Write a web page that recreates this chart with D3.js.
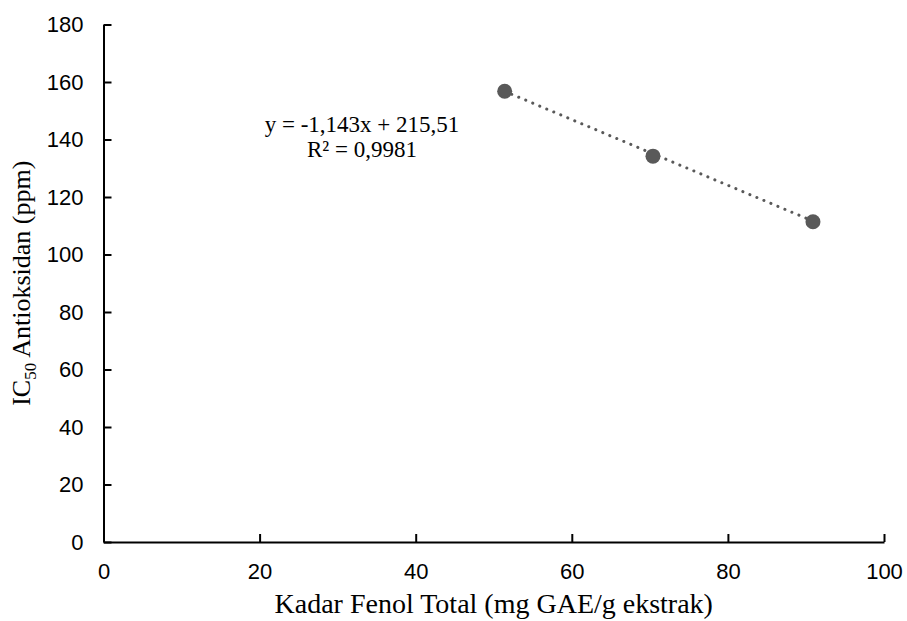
<!DOCTYPE html>
<html>
<head>
<meta charset="utf-8">
<script src="https://cdn.jsdelivr.net/npm/d3@7"></script>
<style>
  body { margin: 0; background: #fff; }
  svg { display: block; }
  .tick text { font-family: "Liberation Sans", Arial, sans-serif; font-size: 22px; fill: #000; }
  .title { font-family: "Liberation Serif", "Times New Roman", serif; fill: #000; }
</style>
</head>
<body>
<script>
// kadar fenol total (mg GAE/g ekstrak) vs IC50 (ppm)
var fenol = [51.4, 70.4, 90.9];
var ic50 = [156.8, 134.2, 111.4];
var xTicks = [0, 20, 40, 60, 80, 100];
var yTicks = [0, 20, 40, 60, 80, 100, 120, 140, 160, 180];
var slope = -1.143, intercept = 215.51;
var eqLines = ['y = -1,143x + 215,51', 'R\u00b2 = 0,9981'];

var W = 907, H = 621;
var margin = { left: 103.5, right: 23, top: 24.5, bottom: 79 };

var svg = d3.select('body').append('svg')
    .attr('width', W)
    .attr('height', H);

var x = d3.scaleLinear().domain([0, 100]).range([margin.left, W - margin.right]);
var y = d3.scaleLinear().domain([0, 180]).range([H - margin.bottom, margin.top]);

var gx = svg.append('g')
    .attr('transform', 'translate(0,' + y(0) + ')')
    .call(d3.axisBottom(x).tickValues(xTicks).tickSizeInner(-8).tickSizeOuter(0).tickPadding(21));

var gy = svg.append('g')
    .attr('transform', 'translate(' + x(0) + ',0)')
    .call(d3.axisLeft(y).tickValues(yTicks).tickSizeInner(-8).tickSizeOuter(0).tickPadding(20));

[gx, gy].forEach(function (g) {
    g.select('.domain').attr('stroke', '#000').attr('stroke-width', 2);
    g.selectAll('.tick line').attr('stroke', '#000').attr('stroke-width', 2);
});
gx.selectAll('.tick text').attr('dy', '0.71em');

// trendline
var x0 = d3.min(fenol), x1 = d3.max(fenol);
svg.append('line')
    .attr('x1', x(x0)).attr('y1', y(slope * x0 + intercept))
    .attr('x2', x(x1)).attr('y2', y(slope * x1 + intercept))
    .attr('stroke', '#595959')
    .attr('stroke-width', 3)
    .attr('stroke-linecap', 'round')
    .attr('stroke-dasharray', '0.1 7.5');

svg.selectAll('circle.pt')
    .data(fenol)
    .enter().append('circle')
    .attr('class', 'pt')
    .attr('cx', function (d) { return x(d); })
    .attr('cy', function (d, i) { return y(ic50[i]); })
    .attr('r', 7.5)
    .attr('fill', '#595959');

// equation label
svg.append('text')
    .attr('class', 'title')
    .style('font-size', '23px')
    .attr('text-anchor', 'middle')
    .selectAll('tspan')
    .data(eqLines)
    .enter().append('tspan')
    .attr('x', 362)
    .attr('y', function (d, i) { return 132 + i * 25; })
    .text(function (d) { return d; });

// axis titles
svg.append('text')
    .attr('class', 'title')
    .style('font-size', '28px')
    .attr('text-anchor', 'middle')
    .attr('x', (x(0) + x(100)) / 2)
    .attr('y', 613)
    .text('Kadar Fenol Total (mg GAE/g ekstrak)');

var yt = svg.append('text')
    .attr('class', 'title')
    .style('font-size', '26px')
    .attr('text-anchor', 'middle')
    .attr('transform', 'translate(30,' + (y(0) + y(180)) / 2 + ') rotate(-90)');
yt.append('tspan').text('IC');
yt.append('tspan').style('font-size', '17px').attr('dy', 6).text('50');
yt.append('tspan').attr('dy', -6).text(' Antioksidan (ppm)');
</script>
</body>
</html>
